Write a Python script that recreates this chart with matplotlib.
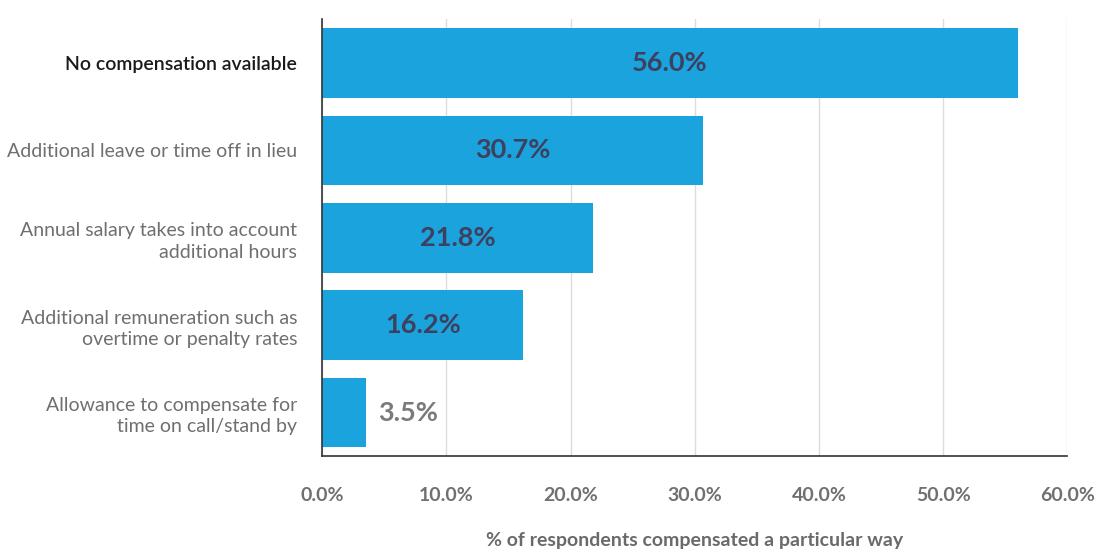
import matplotlib
matplotlib.use("Agg")
import matplotlib.pyplot as plt
from matplotlib.ticker import FuncFormatter

categories = [
    "No compensation available",
    "Additional leave or time off in lieu",
    "Annual salary takes into account\nadditional hours",
    "Additional remuneration such as\novertime or penalty rates",
    "Allowance to compensate for\ntime on call/stand by",
]
values = [56.0, 30.7, 21.8, 16.2, 3.5]
xticks = [0, 10, 20, 30, 40, 50, 60]

plt.rcParams['font.family'] = ['Lato', 'DejaVu Sans']

fig = plt.figure(figsize=(11.01, 5.55), dpi=100)
ax = fig.add_axes([0.2925, 0.178, 0.677, 0.787])

ypos = list(range(len(categories)))
ax.barh(ypos, values, height=0.8, color='#1ba3dd', zorder=2)

# values inside the bars, the short one just past its end
for y, v in zip(ypos, values):
    if v > 10:
        ax.text(v / 2, y, f"{v:.1f}%", ha='center', va='center',
                fontsize=19.5, fontweight='bold', color='#3d405e', zorder=3)
    else:
        ax.text(v + 1.0, y, f"{v:.1f}%", ha='left', va='center',
                fontsize=19.5, fontweight='bold', color='#7a7a7a', zorder=3)

ax.set_ylim(len(categories) - 0.5, -0.5)
ax.set_xlim(0, 60)
ax.set_yticks(ypos)
ax.set_yticklabels(categories, fontsize=14, color='#6f6f6f', linespacing=1.3)
ax.get_yticklabels()[0].set_color('#1a1a1a')
ax.get_yticklabels()[0].set_fontweight('semibold')
ax.tick_params(axis='y', length=0, pad=18)

ax.set_xticks(xticks)
ax.xaxis.set_major_formatter(FuncFormatter(lambda x, p: f"{x:.1f}%"))
ax.tick_params(axis='x', length=0, pad=22, labelsize=14, labelcolor='#707070')
for lbl in ax.get_xticklabels():
    lbl.set_fontweight('bold')

ax.grid(axis='x', color='#dcdcdc', linewidth=1, zorder=0)
ax.spines['top'].set_visible(False)
ax.spines['right'].set_visible(False)
ax.spines['left'].set_color('#333333')
ax.spines['bottom'].set_color('#333333')
ax.spines['left'].set_linewidth(1.2)
ax.spines['bottom'].set_linewidth(1.2)

ax.set_xlabel("% of respondents compensated a particular way", fontsize=14,
              fontweight='bold', color='#6a6a6a', labelpad=20)

fig.savefig("out.png", dpi=100, facecolor='white')
